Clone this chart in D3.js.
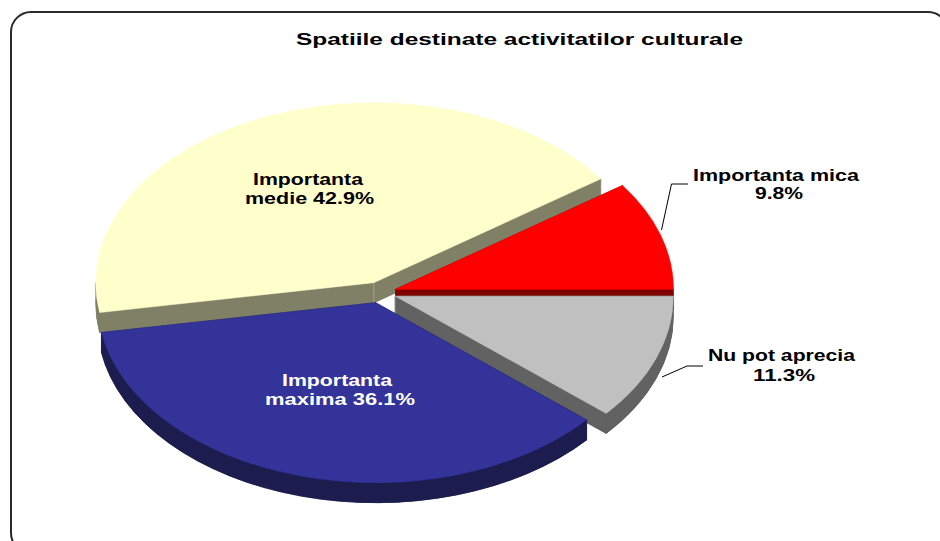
<!DOCTYPE html>
<html>
<head>
<meta charset="utf-8">
<script src="https://cdn.jsdelivr.net/npm/d3@7"></script>
<style>
  html, body { margin: 0; padding: 0; background: #fff; }
  svg { display: block; }
  text { font-family: Arial, "Liberation Sans", sans-serif; font-weight: bold; }
</style>
</head>
<body>
<svg id="chart" width="940" height="541"></svg>
<script>
// ---- data ----
const title = "Spatiile destinate activitatilor culturale";
const categories = ["Importanta maxima", "Importanta medie", "Importanta mica", "Nu pot aprecia"];
const values = [36.1, 42.9, 9.8, 11.3];
const labelLines = [
  ["Importanta", "maxima 36.1%"],
  ["Importanta", "medie 42.9%"],
  ["Importanta mica", "9.8%"],
  ["Nu pot aprecia", "11.3%"]
];
const topColors  = ["#333399", "#FFFFCC", "#FF0000", "#C0C0C0"];
const sideColors = ["#1C1C4E", "#808066", "#800000", "#626262"];
const textColors = ["#FFFFFF", "#000000", "#000000", "#000000"];

// ---- layout ----
const W = 940, H = 541;
const cx = 380, cy = 292.5, rx = 278, ry = 180, depth = 20, explode = 16.3;
const ratio = ry / rx;
// label layout: [center x, baseline y, textLength] per line
const labelLayout = [
  [[337, 386, 110], [340, 405, 150]],
  [[308, 185, 110], [309.5, 203.5, 129]],
  [[776, 181, 166], [779, 199, 48]],
  [[781.5, 361, 147], [784, 381, 62]]
];
const leaders = {
  2: [[661.5, 230], [671.5, 184], [688, 184]],
  3: [[662, 377], [687, 366], [703, 366]]
};

const svg = d3.select("#chart");

// frame
svg.append("rect")
  .attr("x", 11).attr("y", 12).attr("width", 937).attr("height", 541)
  .attr("rx", 20).attr("ry", 20)
  .attr("fill", "#fff").attr("stroke", "#2a2a2a").attr("stroke-width", 2);

// title
svg.append("text")
  .attr("x", 519.5).attr("y", 45)
  .attr("text-anchor", "middle")
  .attr("font-size", 16.5)
  .attr("textLength", 447).attr("lengthAdjust", "spacingAndGlyphs")
  .attr("fill", "#000")
  .text(title);

// pie angles: the border between the last and the third slice lies at 3 o'clock
const total = d3.sum(values);
const start = Math.PI / 2 + 2 * Math.PI * values[values.length - 1] / total;
const pie = d3.pie().sort(null).startAngle(start).endAngle(start + 2 * Math.PI);
const arcs = pie(values).map((d, i) => {
  const mid = (d.startAngle + d.endAngle) / 2;
  const ox = cx + explode * Math.sin(mid);
  const oy = cy - explode * Math.cos(mid) * ratio;
  return { ...d, i, mid, ox, oy };
});

function pt(a, ox, oy, dz = 0) {
  return [ox + rx * Math.sin(a), oy - ry * Math.cos(a) + dz];
}
function sectorPath(d, dz) {
  const p0 = pt(d.startAngle, d.ox, d.oy, dz), p1 = pt(d.endAngle, d.ox, d.oy, dz);
  const large = (d.endAngle - d.startAngle) > Math.PI ? 1 : 0;
  return `M${d.ox},${d.oy + dz}L${p0[0]},${p0[1]}A${rx},${ry} 0 ${large} 1 ${p1[0]},${p1[1]}Z`;
}
function wallPath(d, b0, b1) {
  const p0 = pt(b0, d.ox, d.oy), p1 = pt(b1, d.ox, d.oy);
  const q0 = pt(b0, d.ox, d.oy, depth), q1 = pt(b1, d.ox, d.oy, depth);
  const large = (b1 - b0) > Math.PI ? 1 : 0;
  return `M${p0[0]},${p0[1]}A${rx},${ry} 0 ${large} 1 ${p1[0]},${p1[1]}` +
         `L${q1[0]},${q1[1]}A${rx},${ry} 0 ${large} 0 ${q0[0]},${q0[1]}Z`;
}
function radialPath(d, a) {
  const p = pt(a, d.ox, d.oy), q = pt(a, d.ox, d.oy, depth);
  return `M${d.ox},${d.oy}L${p[0]},${p[1]}L${q[0]},${q[1]}L${d.ox},${d.oy + depth}Z`;
}

// draw back to front
const order = arcs.slice().sort((a, b) => a.oy - b.oy);
const g = svg.append("g");
order.forEach(d => {
  const s = g.append("g");
  const side = sideColors[d.i];
  // bottom face
  s.append("path").attr("d", sectorPath(d, depth)).attr("fill", side).attr("stroke", side).attr("stroke-width", 0.6);
  // radial faces
  [d.startAngle, d.endAngle].forEach(a => {
    s.append("path").attr("d", radialPath(d, a)).attr("fill", side).attr("stroke", side).attr("stroke-width", 0.6);
  });
  // outer wall, front half only
  for (let k = -1; k <= 2; k++) {
    const f0 = Math.PI / 2 + 2 * Math.PI * k, f1 = 3 * Math.PI / 2 + 2 * Math.PI * k;
    const b0 = Math.max(f0, d.startAngle), b1 = Math.min(f1, d.endAngle);
    if (b1 > b0) {
      s.append("path").attr("d", wallPath(d, b0, b1)).attr("fill", side).attr("stroke", side).attr("stroke-width", 0.6);
    }
  }
  // apex edge highlight
  s.append("line")
    .attr("x1", d.ox).attr("y1", d.oy).attr("x2", d.ox).attr("y2", d.oy + depth)
    .attr("stroke", d3.color(side).brighter(1.2)).attr("stroke-width", 1).attr("opacity", 0.6);
  // top face
  s.append("path").attr("d", sectorPath(d, 0)).attr("fill", topColors[d.i]).attr("stroke", topColors[d.i]).attr("stroke-width", 0.5);
});

// leader lines
Object.entries(leaders).forEach(([i, pts]) => {
  svg.append("path")
    .attr("d", d3.line()(pts))
    .attr("fill", "none").attr("stroke", "#000").attr("stroke-width", 1);
});

// labels
arcs.forEach(d => {
  labelLines[d.i].forEach((line, j) => {
    const [x, y, len] = labelLayout[d.i][j];
    svg.append("text")
      .attr("x", x).attr("y", y)
      .attr("text-anchor", "middle")
      .attr("font-size", 16.5)
      .attr("textLength", len).attr("lengthAdjust", "spacingAndGlyphs")
      .attr("fill", textColors[d.i])
      .text(line);
  });
});
</script>
</body>
</html>
